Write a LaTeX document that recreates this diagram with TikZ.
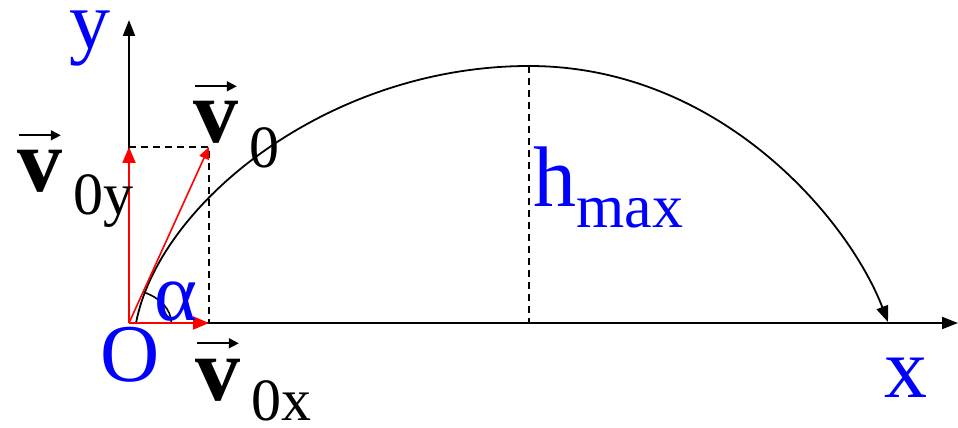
\documentclass[tikz,border=0pt]{standalone}
\usepackage{fontspec}
\setmainfont{Liberation Serif}
\usetikzlibrary{arrows.meta}

\begin{document}
\begin{tikzpicture}[x=.5pt,y=.5pt,
axis/.style={-{Triangle[length=8pt,width=6pt]},line width=1pt},
comp/.style={-{Triangle[length=8pt,width=6.5pt]},line width=1pt,draw=red},
guide/.style={dash pattern=on 3.5pt off 2.5pt,line width=.8pt},
traj/.style={-{Triangle[length=8pt,width=6pt]},line width=.9pt},
vecarr/.style={-{Triangle[length=5pt,width=5pt]},line width=.8pt},
lbl/.style={inner sep=0pt,text=blue,font=\fontsize{41}{41}\selectfont},
vlet/.style={inner sep=0pt,anchor=base west,font=\fontsize{45}{45}\selectfont\bfseries},
vsub/.style={inner sep=0pt,anchor=base west,font=\fontsize{30}{30}\selectfont}]

\useasboundingbox (-129,-105) rectangle (829,323);
\coordinate (O) at (0,0);\coordinate (ytip) at (0,303);\coordinate (xtip) at (829,0);
\coordinate (vy) at (0,176);\coordinate (vx) at (80,0);\coordinate (v0) at (80,176);
\coordinate (launch) at (7,0);\coordinate (top) at (400,257);\coordinate (foot) at (400,0);\coordinate (land) at (759,1);

\draw[axis](O)--(ytip);\draw[axis](O)--(xtip);
\draw[guide](vy)--(v0)--(vx);
\draw[guide](top)--(foot);
\draw[traj](launch)..controls(30,120)and(200,257)..(top)..controls(590,257)and(719,105)..(land);
\draw[line width=.8pt](O)++(66:34)arc[start angle=66,end angle=0,x radius=48,y radius=34];
\draw[comp](O)--(vy);\draw[comp](O)--(vx);
\draw[comp,-{Triangle[length=6pt,width=5pt]},line width=.8pt](O)--(v0);

\node[lbl](ylab)at(-39,284){y};
\node[lbl](olab)at(1,-32){O};
\node[lbl,font=\fontsize{43}{43}\selectfont](xlab)at(777,-55){x};
\node[lbl](alab)at(47,21){α};
\node[lbl,anchor=base west,font=\fontsize{43}{43}\selectfont](hlab)at(404,116){h\raisebox{-10.5pt}{\fontsize{31}{31}\selectfont max}};
% velocity labels
\node[vlet](v0v)at(64,180){v};
\node[vsub](v0s)at([shift={(5pt,-12.5pt)}]v0v.base east){0};
\node[vlet](vyv)at(-112,131){v};
\node[vsub](vys)at([shift={(5pt,-11.5pt)}]vyv.base east){0y};
\node[vlet](vxv)at(66,-77){v};
\node[vsub](vxs)at([shift={(5pt,-10pt)}]vxv.base east){0x};
\foreach \v in {v0v,vyv,vxv}
  \draw[vecarr]([shift={(1pt,7.5pt)}]\v.north west)--([shift={(-1pt,7.5pt)}]\v.north east);
\end{tikzpicture}
\end{document}
